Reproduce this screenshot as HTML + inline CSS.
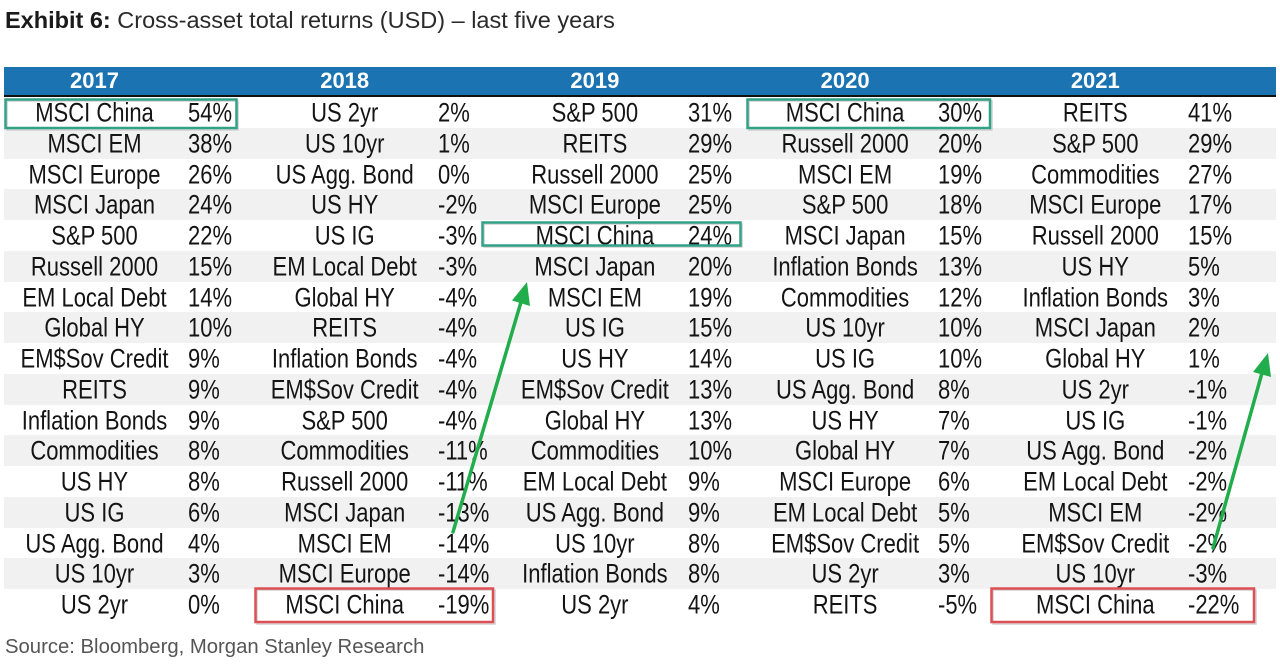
<!DOCTYPE html>
<html>
<head>
<meta charset="utf-8">
<style>
  html,body{margin:0;padding:0;}
  body{width:1280px;height:667px;position:relative;background:#fff;overflow:hidden;font-family:"Liberation Sans",Arial,sans-serif;}
  .title{position:absolute;left:5px;top:8px;font-size:23.5px;line-height:24px;color:#2a2a2a;white-space:nowrap;}
  .title b{color:#1a1a1a;}
  .src{position:absolute;left:5px;top:636px;font-size:20.3px;line-height:22px;color:#555;white-space:nowrap;}
  .hdr{position:absolute;left:4px;top:67px;width:1272px;height:28px;background:#1b74b1;border-bottom:2px solid #111;}
  .hdr span{position:absolute;top:0;width:180px;text-align:center;color:#fff;font-weight:bold;font-size:22px;line-height:28px;}
  .row{position:absolute;left:4px;width:1272px;height:30.75px;font-size:22px;line-height:31px;color:#141414;}
  .row.g{background:#f1f1f1;}
  .row span{position:absolute;top:0;white-space:nowrap;transform:scaleY(1.2);transform-origin:50% 50%;}
  .n0,.n1,.n2,.n3,.n4{width:180px;text-align:center;}
  .n0{left:0.5px}.n1{left:250.7px}.n2{left:500.9px}.n3{left:751.1px}.n4{left:1001.3px}
  .v0{left:184px}.v1{left:434px}.v2{left:684px}.v3{left:934px}.v4{left:1184px}
  svg{position:absolute;left:0;top:0;}
</style>
</head>
<body>
<div class="title"><b>Exhibit 6:</b> Cross-asset total returns (USD) – last five years</div>

<div class="hdr">
  <span class="n0">2017</span><span class="n1">2018</span><span class="n2">2019</span><span class="n3">2020</span><span class="n4">2021</span>
</div>

<div class="row" style="top:97px"><span class="n0">MSCI China</span><span class="v0">54%</span><span class="n1">US 2yr</span><span class="v1">2%</span><span class="n2">S&amp;P 500</span><span class="v2">31%</span><span class="n3">MSCI China</span><span class="v3">30%</span><span class="n4">REITS</span><span class="v4">41%</span></div>
<div class="row g" style="top:127.75px"><span class="n0">MSCI EM</span><span class="v0">38%</span><span class="n1">US 10yr</span><span class="v1">1%</span><span class="n2">REITS</span><span class="v2">29%</span><span class="n3">Russell 2000</span><span class="v3">20%</span><span class="n4">S&amp;P 500</span><span class="v4">29%</span></div>
<div class="row" style="top:158.5px"><span class="n0">MSCI Europe</span><span class="v0">26%</span><span class="n1">US Agg. Bond</span><span class="v1">0%</span><span class="n2">Russell 2000</span><span class="v2">25%</span><span class="n3">MSCI EM</span><span class="v3">19%</span><span class="n4">Commodities</span><span class="v4">27%</span></div>
<div class="row g" style="top:189.25px"><span class="n0">MSCI Japan</span><span class="v0">24%</span><span class="n1">US HY</span><span class="v1">-2%</span><span class="n2">MSCI Europe</span><span class="v2">25%</span><span class="n3">S&amp;P 500</span><span class="v3">18%</span><span class="n4">MSCI Europe</span><span class="v4">17%</span></div>
<div class="row" style="top:220px"><span class="n0">S&amp;P 500</span><span class="v0">22%</span><span class="n1">US IG</span><span class="v1">-3%</span><span class="n2">MSCI China</span><span class="v2">24%</span><span class="n3">MSCI Japan</span><span class="v3">15%</span><span class="n4">Russell 2000</span><span class="v4">15%</span></div>
<div class="row g" style="top:250.75px"><span class="n0">Russell 2000</span><span class="v0">15%</span><span class="n1">EM Local Debt</span><span class="v1">-3%</span><span class="n2">MSCI Japan</span><span class="v2">20%</span><span class="n3">Inflation Bonds</span><span class="v3">13%</span><span class="n4">US HY</span><span class="v4">5%</span></div>
<div class="row" style="top:281.5px"><span class="n0">EM Local Debt</span><span class="v0">14%</span><span class="n1">Global HY</span><span class="v1">-4%</span><span class="n2">MSCI EM</span><span class="v2">19%</span><span class="n3">Commodities</span><span class="v3">12%</span><span class="n4">Inflation Bonds</span><span class="v4">3%</span></div>
<div class="row g" style="top:312.25px"><span class="n0">Global HY</span><span class="v0">10%</span><span class="n1">REITS</span><span class="v1">-4%</span><span class="n2">US IG</span><span class="v2">15%</span><span class="n3">US 10yr</span><span class="v3">10%</span><span class="n4">MSCI Japan</span><span class="v4">2%</span></div>
<div class="row" style="top:343px"><span class="n0">EM$Sov Credit</span><span class="v0">9%</span><span class="n1">Inflation Bonds</span><span class="v1">-4%</span><span class="n2">US HY</span><span class="v2">14%</span><span class="n3">US IG</span><span class="v3">10%</span><span class="n4">Global HY</span><span class="v4">1%</span></div>
<div class="row g" style="top:373.75px"><span class="n0">REITS</span><span class="v0">9%</span><span class="n1">EM$Sov Credit</span><span class="v1">-4%</span><span class="n2">EM$Sov Credit</span><span class="v2">13%</span><span class="n3">US Agg. Bond</span><span class="v3">8%</span><span class="n4">US 2yr</span><span class="v4">-1%</span></div>
<div class="row" style="top:404.5px"><span class="n0">Inflation Bonds</span><span class="v0">9%</span><span class="n1">S&amp;P 500</span><span class="v1">-4%</span><span class="n2">Global HY</span><span class="v2">13%</span><span class="n3">US HY</span><span class="v3">7%</span><span class="n4">US IG</span><span class="v4">-1%</span></div>
<div class="row g" style="top:435.25px"><span class="n0">Commodities</span><span class="v0">8%</span><span class="n1">Commodities</span><span class="v1">-11%</span><span class="n2">Commodities</span><span class="v2">10%</span><span class="n3">Global HY</span><span class="v3">7%</span><span class="n4">US Agg. Bond</span><span class="v4">-2%</span></div>
<div class="row" style="top:466px"><span class="n0">US HY</span><span class="v0">8%</span><span class="n1">Russell 2000</span><span class="v1">-11%</span><span class="n2">EM Local Debt</span><span class="v2">9%</span><span class="n3">MSCI Europe</span><span class="v3">6%</span><span class="n4">EM Local Debt</span><span class="v4">-2%</span></div>
<div class="row g" style="top:496.75px"><span class="n0">US IG</span><span class="v0">6%</span><span class="n1">MSCI Japan</span><span class="v1">-13%</span><span class="n2">US Agg. Bond</span><span class="v2">9%</span><span class="n3">EM Local Debt</span><span class="v3">5%</span><span class="n4">MSCI EM</span><span class="v4">-2%</span></div>
<div class="row" style="top:527.5px"><span class="n0">US Agg. Bond</span><span class="v0">4%</span><span class="n1">MSCI EM</span><span class="v1">-14%</span><span class="n2">US 10yr</span><span class="v2">8%</span><span class="n3">EM$Sov Credit</span><span class="v3">5%</span><span class="n4">EM$Sov Credit</span><span class="v4">-2%</span></div>
<div class="row g" style="top:558.25px"><span class="n0">US 10yr</span><span class="v0">3%</span><span class="n1">MSCI Europe</span><span class="v1">-14%</span><span class="n2">Inflation Bonds</span><span class="v2">8%</span><span class="n3">US 2yr</span><span class="v3">3%</span><span class="n4">US 10yr</span><span class="v4">-3%</span></div>
<div class="row" style="top:589px"><span class="n0">US 2yr</span><span class="v0">0%</span><span class="n1">MSCI China</span><span class="v1">-19%</span><span class="n2">US 2yr</span><span class="v2">4%</span><span class="n3">REITS</span><span class="v3">-5%</span><span class="n4">MSCI China</span><span class="v4">-22%</span></div>

<svg width="1280" height="667" viewBox="0 0 1280 667">
  <g fill="none" stroke-width="2.5">
    <g stroke="#cfcfcf" stroke-width="1.5">
      <rect x="7" y="101" width="231" height="29"/>
      <rect x="749" y="101" width="243" height="29"/>
      <rect x="484" y="224" width="258" height="23"/>
      <rect x="257" y="590" width="238" height="34"/>
      <rect x="993" y="590" width="263" height="34"/>
    </g>
    <rect x="5.5" y="99.5" width="231" height="28.5" stroke="#32a287"/>
    <rect x="747.5" y="99.5" width="242.5" height="28.5" stroke="#32a287"/>
    <rect x="482.5" y="222.5" width="258" height="23" stroke="#32a287"/>
    <rect x="255.5" y="588.5" width="237.5" height="33.5" stroke="#de4f55"/>
    <rect x="991.5" y="588.5" width="262.5" height="33.5" stroke="#de4f55"/>
  </g>
  <g stroke="#22ad4c" stroke-width="3.5" stroke-linecap="round" fill="#22ad4c">
    <line x1="453" y1="532" x2="521" y2="302"/>
    <polygon stroke="none" points="527,282 530,306 512,300.5"/>
    <line x1="1213" y1="548" x2="1262" y2="373"/>
    <polygon stroke="none" points="1268,353 1271,377 1253,372"/>
  </g>
</svg>

<div class="src">Source: Bloomberg, Morgan Stanley Research</div>
</body>
</html>
